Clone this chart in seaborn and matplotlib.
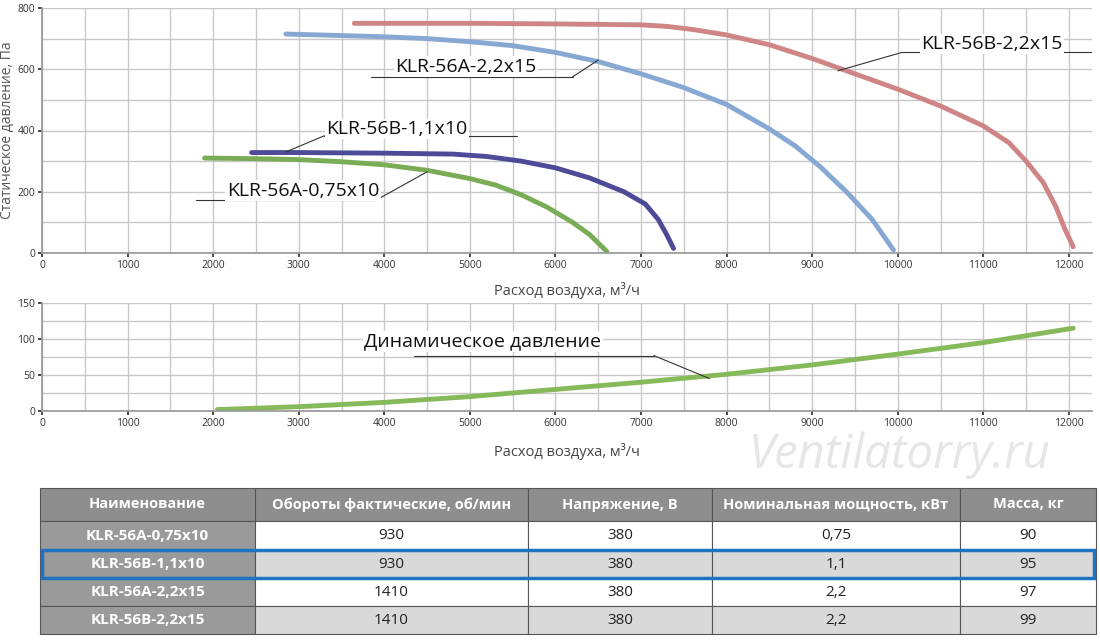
import numpy as np
import matplotlib
matplotlib.use("Agg")
import matplotlib.pyplot as plt
import seaborn as sns
from matplotlib.patches import Rectangle

sns.set_theme(style="white")
plt.rcParams['font.family'] = ['Open Sans', 'DejaVu Sans']

# static pressure curves
q_a075 = [1900, 2500, 3000, 3500, 4000, 4500, 5000, 5300, 5600, 5900, 6200, 6400, 6600]
p_a075 = [310, 308, 305, 298, 288, 270, 243, 222, 190, 150, 100, 60, 5]
q_b11 = [2450, 3000, 4000, 4800, 5200, 5600, 6000, 6400, 6800, 7050, 7200, 7300, 7380]
p_b11 = [328, 328, 326, 323, 315, 300, 278, 245, 200, 160, 110, 60, 15]
q_a22 = [2850, 3500, 4000, 4500, 5000, 5500, 6000, 6500, 7000, 7500, 8000, 8500, 8800, 9100, 9400, 9700, 9950]
p_a22 = [715, 710, 706, 700, 690, 677, 655, 625, 585, 540, 485, 405, 350, 280, 200, 110, 10]
q_b22 = [3650, 5000, 6000, 7000, 7300, 7600, 8000, 8500, 9000, 9500, 10000, 10500, 11000,
         11300, 11500, 11700, 11850, 11950, 12050]
p_b22 = [750, 750, 748, 745, 740, 730, 712, 680, 635, 585, 535, 480, 415, 360, 300, 230, 150, 80, 20]
# dynamic pressure
q_dyn = [2050, 3000, 4000, 5000, 6000, 7000, 8000, 9000, 10000, 11000, 12050]
p_dyn = [2, 6, 12, 20, 30, 40, 51, 64, 79, 95, 115]

headers = ["Наименование", "Обороты фактические, об/мин", "Напряжение, В",
           "Номинальная мощность, кВт", "Масса, кг"]
rows = [["KLR-56A-0,75x10", "930", "380", "0,75", "90"],
        ["KLR-56B-1,1x10", "930", "380", "1,1", "95"],
        ["KLR-56A-2,2x15", "1410", "380", "2,2", "97"],
        ["KLR-56B-2,2x15", "1410", "380", "2,2", "99"]]

W, H = 1100, 640
fig = plt.figure(figsize=(W / 100, H / 100), dpi=100)
ax1 = fig.add_axes([42 / W, 1 - 253 / H, 1050 / W, 245 / H])
ax2 = fig.add_axes([42 / W, 1 - 411 / H, 1050 / W, 108 / H])

def style(ax, ymax, ymaj, ymin):
    ax.set_xlim(0, 12270)
    ax.set_ylim(0, ymax)
    ax.set_xticks(np.arange(0, 12001, 1000))
    ax.set_xticks(np.arange(500, 12300, 500), minor=True)
    ax.set_yticks(np.arange(0, ymax + 1, ymaj))
    ax.set_yticks(np.arange(0, ymax + 1, ymin), minor=True)
    ax.grid(True, which="both", color="#c8c8c8", lw=1)
    for s in ["top", "right"]:
        ax.spines[s].set_visible(False)
    for s in ["left", "bottom"]:
        ax.spines[s].set_color("#999999")
    ax.tick_params(labelsize=7.5, colors="#333333", length=3, left=True, bottom=True, pad=2)
    ax.set_axisbelow(True)

style(ax1, 800, 200, 100)
style(ax2, 150, 50, 25)

curves = [(q_a075, p_a075, "#7aab55"), (q_b11, p_b11, "#4d4a98"),
          (q_a22, p_a22, "#86a8d2"), (q_b22, p_b22, "#cf8585")]
for q, p, c in curves:
    sns.lineplot(x=q, y=p, ax=ax1, color=c, lw=3.5, solid_capstyle="round",
                 solid_joinstyle="round")
sns.lineplot(x=q_dyn, y=p_dyn, ax=ax2, color="#86b95a", lw=3.5, solid_capstyle="round")

def label(ax, text, tx, ty, x0, x1, yl, px, py, join_left=False):
    ax.text(tx, ty, text, fontsize=14, ha="center", va="center", color="#111111",
            bbox=dict(fc="white", ec="none", pad=1), zorder=5)
    ax.plot([x0, x1], [yl, yl], color="#333333", lw=0.8, zorder=4)
    ax.plot([x0 if join_left else x1, px], [yl, py], color="#333333", lw=0.8, zorder=4)

label(ax1, "KLR-56A-0,75x10", 3050, 204, 1800, 3900, 172, 4500, 265)
label(ax1, "KLR-56B-1,1x10", 4150, 405, 3300, 5550, 383, 2850, 330, join_left=True)
label(ax1, "KLR-56A-2,2x15", 4950, 608, 3850, 6200, 575, 6500, 630)
label(ax1, "KLR-56B-2,2x15", 11100, 682, 10050, 12270, 655, 9300, 595, join_left=True)
label(ax2, "Динамическое давление", 5150, 97, 4350, 7150, 77, 7800, 45)

ax1.set_ylabel("Статическое давление, Па", fontsize=10, color="#555555", labelpad=2)
ax1.set_xlabel("Расход воздуха, м³/ч", fontsize=10.5, color="#444444", labelpad=8)
ax2.set_xlabel("Расход воздуха, м³/ч", fontsize=10.5, color="#444444", labelpad=10)

fig.text(0.955, 1 - 455 / H, "Ventilatorry.ru", fontsize=34, style="italic",
         color="#e6e6e6", ha="right", va="center")

# table
colx = [40, 255, 528, 712, 960, 1096]
rowy = [488, 521, 550, 578, 606, 634]
tax = fig.add_axes([0, 0, 1, 1])
tax.set_xlim(0, W)
tax.set_ylim(H, 0)
tax.axis("off")
fills = ["#8e8e8e", "#ffffff", "#d9d9d9", "#ffffff", "#d9d9d9"]
for r in range(5):
    y0, y1 = rowy[r], rowy[r + 1]
    for c in range(5):
        x0, x1 = colx[c], colx[c + 1]
        fc = fills[r] if (c > 0 or r == 0) else "#9a9a9a"
        tax.add_patch(Rectangle((x0, y0), x1 - x0, y1 - y0, fc=fc, ec="#555555", lw=0.8))
        if r == 0:
            tax.text((x0 + x1) / 2, (y0 + y1) / 2, headers[c], ha="center", va="center",
                     color="white", fontsize=10.5, fontweight="bold")
        else:
            tax.text((x0 + x1) / 2, (y0 + y1) / 2, rows[r - 1][c], ha="center", va="center",
                     color="#ffffff" if c == 0 else "#222222", fontsize=11,
                     fontweight="bold" if c == 0 else "normal")
tax.add_patch(Rectangle((colx[0] + 2, rowy[2]), colx[-1] - colx[0] - 4, rowy[3] - rowy[2],
                        fc="none", ec="#1f73c0", lw=2.5))

fig.savefig("out.png", dpi=100)
